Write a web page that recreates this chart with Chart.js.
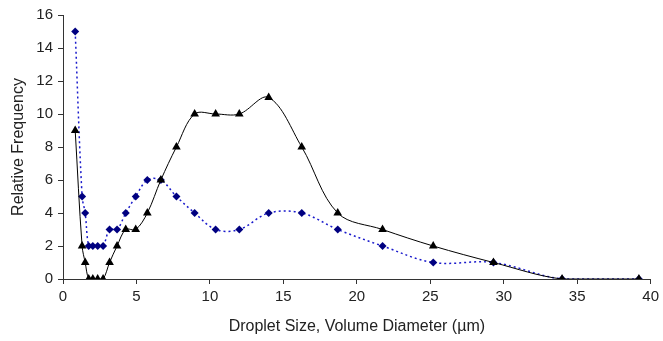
<!DOCTYPE html>
<html>
<head>
<meta charset="utf-8">
<script src="https://cdn.jsdelivr.net/npm/chart.js@4/dist/chart.umd.min.js"></script>
<style>
html,body{margin:0;padding:0;background:#fff;}
#wrap{width:663px;height:341px;}
</style>
</head>
<body>
<div id="wrap"><canvas id="c" width="663" height="341"></canvas></div>
<script>
const dropletSizes = [0.83, 1.30, 1.51, 1.75, 2.03, 2.36, 2.73, 3.17, 3.68, 4.27, 4.95, 5.74, 6.66, 7.72, 8.96, 10.39, 12.0, 14.0, 16.25, 18.7, 21.75, 25.2, 29.3, 33.97, 39.2];
const blueSeries   = [15, 5, 4, 2, 2, 2, 2, 3, 3, 4, 5, 6, 6, 5, 4, 3, 3, 4, 4, 3, 2, 1, 1, 0, 0];
const blackSeries  = [9, 2, 1, 0, 0, 0, 0, 1, 2, 3, 3, 4, 6, 8, 10, 10, 10, 11, 8, 4, 3, 2, 1, 0, 0];
const xTitle = 'Droplet Size, Volume Diameter (µm)';
const yTitle = 'Relative Frequency';

const toPts = vals => dropletSizes.map((x, i) => ({x: x, y: vals[i]}));
const fam = 'Liberation Sans, Arial, sans-serif';
const tickFont = {family: fam, size: 15};
const titleFont = {family: fam, size: 16};

new Chart(document.getElementById('c'), {
  type: 'scatter',
  data: {
    datasets: [
      {
        data: toPts(blackSeries),
        showLine: true,
        borderColor: '#000',
        borderWidth: 1,
        backgroundColor: '#000',
        pointStyle: 'triangle',
        pointRadius: 5,
        pointBorderWidth: 0,
        tension: 0.35
      },
      {
        data: toPts(blueSeries),
        showLine: true,
        borderColor: '#1a1acc',
        borderWidth: 1.5,
        borderDash: [2, 3],
        backgroundColor: '#000080',
        pointStyle: 'rectRot',
        pointRadius: 4,
        pointBorderWidth: 0,
        tension: 0.35
      }
    ]
  },
  options: {
    responsive: false,
    animation: false,
    layout: {padding: {left: 9, top: 15, right: 11, bottom: 0}},
    plugins: {legend: {display: false}, tooltip: {enabled: false}},
    scales: {
      x: {
        type: 'linear', min: 0, max: 40,
        ticks: {stepSize: 5, color: '#222', font: tickFont, padding: 4},
        grid: {display: true, drawOnChartArea: false, tickLength: 5, color: '#333'},
        border: {color: '#333', width: 1},
        title: {display: true, text: xTitle, color: '#222', font: titleFont, padding: {top: 4, bottom: 5}},
        afterFit: s => { s.height = 62; }
      },
      y: {
        type: 'linear', min: 0, max: 16,
        ticks: {stepSize: 2, color: '#222', font: tickFont, padding: 5},
        grid: {display: true, drawOnChartArea: false, tickLength: 5, color: '#333'},
        border: {color: '#333', width: 1},
        title: {display: true, text: yTitle, color: '#222', font: titleFont, padding: {top: 0, bottom: 6}},
        afterFit: s => { s.width = 54; }
      }
    }
  }
});
</script>
</body>
</html>
